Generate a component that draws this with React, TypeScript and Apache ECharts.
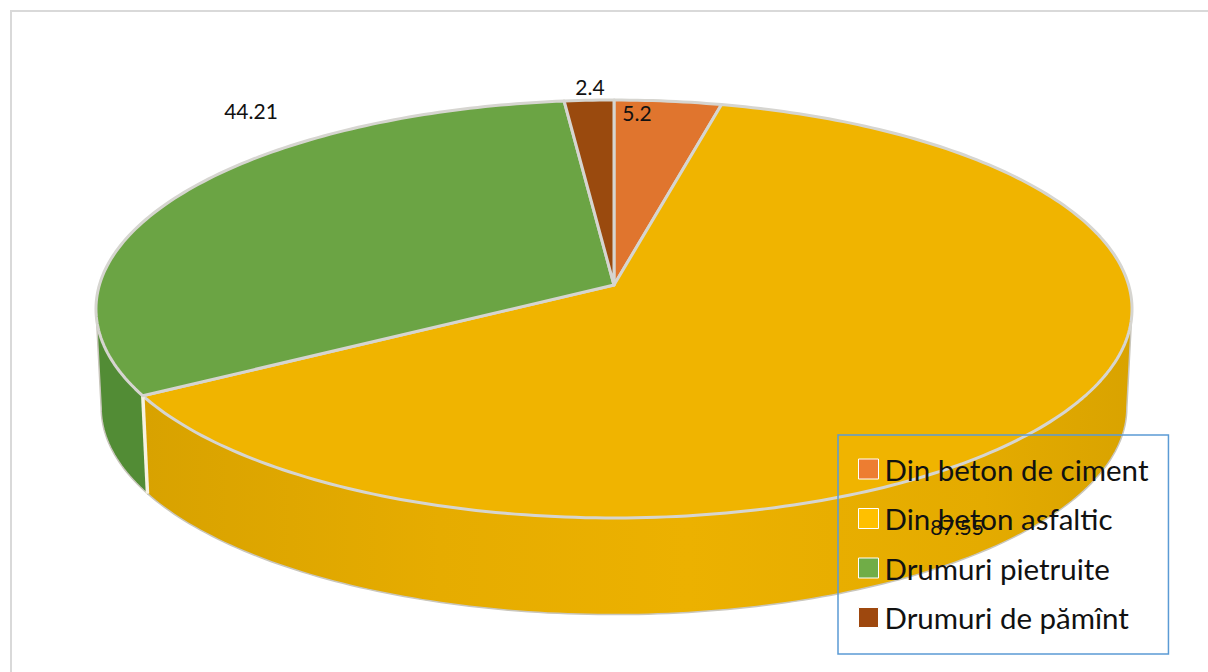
import React, { useEffect, useRef } from "react";
import * as echarts from "echarts";

const categories = ["Din beton de ciment", "Din beton asfaltic", "Drumuri pietruite", "Drumuri de pămînt"];
const values = [5.2, 87.55, 44.21, 2.4];
const valueLabels = ["5.2", "87.55", "44.21", "2.4"];
const legendColors = ["#ED7D31", "#FFC000", "#70AD47", "#9E480E"];
const topColors = ["#E0752E", "#F0B400", "#6BA444", "#9A4A0E"];
const labelAnchors = [[637, 112], [957, 526], [251, 110], [590, 86]];

const total = values.reduce((a, b) => a + b, 0);
const CX = 614, CY = 285, A = 514.6, B = 206.2, K = 0.1148;
const DEPTH = 99, SHRINK = 0.99;
const TANGENT = 96.6;
const rad = (d: number) => (d * Math.PI) / 180;

function rim(deg: number, lower: boolean): number[] {
  const X = Math.sin(rad(deg)), Y = Math.cos(rad(deg));
  const w = 1 + K * Y;
  const s = lower ? SHRINK : 1;
  return [CX + (s * A * X) / w, CY + (lower ? DEPTH : 0) - (s * B * Y) / w];
}

function arc(from: number, to: number, lower: boolean): number[][] {
  const n = Math.max(2, Math.ceil(Math.abs(to - from)));
  const pts: number[][] = [];
  for (let i = 0; i <= n; i++) pts.push(rim(from + ((to - from) * i) / n, lower));
  return pts;
}

function sideFill(i: number) {
  if (i === 1) {
    return new echarts.graphic.LinearGradient(0, 0, 1, 0, [
      { offset: 0, color: "#D8A200" },
      { offset: 0.3, color: "#E6AC00" },
      { offset: 0.55, color: "#ECB100" },
      { offset: 0.85, color: "#E4AB00" },
      { offset: 1, color: "#D9A300" },
    ]);
  }
  return "#528C35";
}

function renderSlice(i: number) {
  return (_params: any, api: any) => {
    const v = api.value(0);
    let before = 0;
    for (let k = 0; k < i; k++) before += values[k];
    const a0 = (before / total) * 360;
    const a1 = ((before + v) / total) * 360;
    const children: any[] = [];
    const s0 = Math.max(a0, TANGENT), s1 = Math.min(a1, 360 - TANGENT);
    if (s1 > s0) {
      children.push({
        type: "polygon",
        shape: { points: [...arc(s0, s1, false), ...arc(s1, s0, true)] },
        style: { fill: sideFill(i), stroke: "#C9C6BC", lineWidth: 1.5 },
      });
      if (i === 2) {
        const t = rim(s0, false), b = rim(s0, true);
        children.push({
          type: "line",
          shape: { x1: t[0], y1: t[1], x2: b[0], y2: b[1] },
          style: { stroke: "#F6F2E2", lineWidth: 3.5 },
        });
      }
    }
    children.push({
      type: "polygon",
      shape: { points: [[CX, CY], ...arc(a0, a1, false)] },
      style: { fill: topColors[i], stroke: "#D6D5D0", lineWidth: 3, lineJoin: "round" },
    });
    const [lx, ly] = labelAnchors[i];
    children.push({
      type: "text",
      x: lx,
      y: ly,
      style: {
        text: valueLabels[i],
        fill: "#111111",
        fontFamily: "Lato",
        fontSize: 21,
        textAlign: "center",
        textVerticalAlign: "middle",
      },
    });
    return { type: "group", children };
  };
}

export default function App() {
  const ref = useRef<HTMLDivElement>(null);
  useEffect(() => {
    document.body.style.margin = "0";
    const chart = echarts.init(ref.current!, undefined, { renderer: "svg" });
    chart.setOption({
      animation: false,
      backgroundColor: "#FFFFFF",
      legend: {
        show: true,
        data: categories,
        orient: "vertical",
        left: 838,
        top: 435,
        padding: [14, 20, 16.5, 20],
        itemWidth: 20,
        itemHeight: 20,
        itemGap: 9.5,
        icon: "rect",
        borderColor: "#5B9BD5",
        borderWidth: 1.5,
        selectedMode: false,
        itemStyle: { borderColor: "#FFFFFF", borderWidth: 1 },
        textStyle: { fontFamily: "Lato", fontSize: 29.5, color: "#111111", padding: [0, 0, 10, 1], height: 30, lineHeight: 30 },
      },
      graphic: [
        {
          type: "polyline",
          shape: { points: [[11, 680], [11, 11], [1220, 11]] },
          style: { stroke: "#D9D9D9", lineWidth: 2, fill: "none" },
          silent: true,
        },
      ],
      series: categories.map((name, i) => ({
        type: "custom",
        name,
        coordinateSystem: "none",
        silent: true,
        itemStyle: { color: legendColors[i] },
        renderItem: renderSlice(i),
        data: [[values[i]]],
      })),
    });
    return () => chart.dispose();
  }, []);
  return <div ref={ref} style={{ width: 1208, height: 672 }} />;
}
